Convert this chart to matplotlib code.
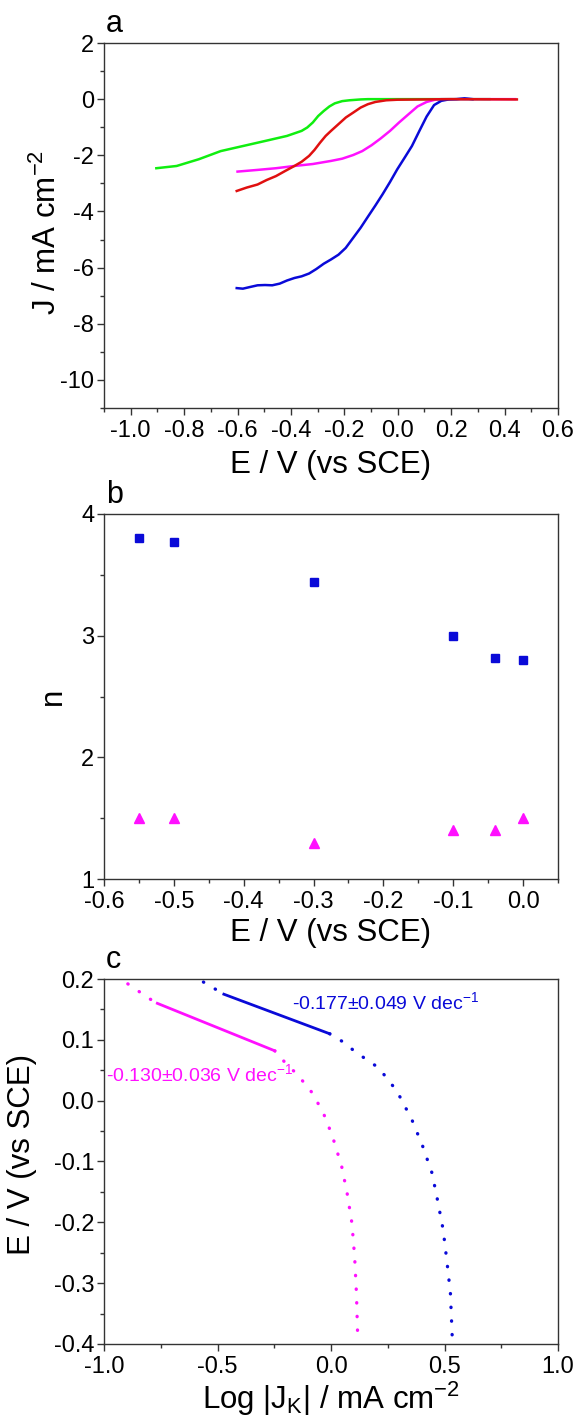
import matplotlib
matplotlib.use("Agg")
import matplotlib.pyplot as plt
from matplotlib.ticker import MultipleLocator

plt.rcParams['font.family'] = ['Liberation Sans', 'DejaVu Sans']
plt.rcParams['mathtext.fontset'] = 'custom'
plt.rcParams['mathtext.rm'] = 'Liberation Sans'
plt.rcParams['mathtext.it'] = 'Liberation Sans'
plt.rcParams['axes.unicode_minus'] = False

# panel a: LSV curves
blue_E = [-0.603, -0.580, -0.553, -0.525, -0.497, -0.470, -0.442, -0.415, -0.387, -0.360,
          -0.332, -0.305, -0.277, -0.250, -0.222, -0.195, -0.167, -0.139, -0.112, -0.084,
          -0.057, -0.029, -0.002, 0.026, 0.053, 0.081, 0.108, 0.136, 0.163, 0.191,
          0.22, 0.25, 0.28]
blue_J = [-6.73, -6.75, -6.69, -6.63, -6.62, -6.63, -6.57, -6.46, -6.37, -6.31,
          -6.21, -6.05, -5.86, -5.71, -5.54, -5.30, -4.94, -4.58, -4.19, -3.79,
          -3.39, -2.95, -2.50, -2.08, -1.67, -1.13, -0.62, -0.21, -0.06, -0.01,
          0.0, 0.03, 0.0]
mag_E = [-0.60, -0.525, -0.456, -0.387, -0.318, -0.25, -0.208, -0.167, -0.133, -0.098,
         -0.064, -0.029, 0.005, 0.040, 0.074, 0.108, 0.143, 0.163, 0.30, 0.44]
mag_J = [-2.58, -2.52, -2.46, -2.38, -2.31, -2.20, -2.12, -1.99, -1.85, -1.64,
         -1.40, -1.13, -0.83, -0.54, -0.26, -0.10, -0.01, 0.0, 0.0, 0.0]
red_E = [-0.603, -0.566, -0.525, -0.491, -0.456, -0.422, -0.387, -0.360, -0.332, -0.312,
         -0.291, -0.270, -0.25, -0.222, -0.194, -0.167, -0.139, -0.112, -0.084, -0.043,
         -0.001, 0.2, 0.446]
red_J = [-3.27, -3.15, -3.04, -2.88, -2.74, -2.56, -2.38, -2.23, -2.02, -1.81,
         -1.55, -1.31, -1.13, -0.89, -0.65, -0.48, -0.30, -0.18, -0.10, -0.04,
         -0.02, 0.0, -0.01]
green_E = [-0.904, -0.828, -0.745, -0.663, -0.58, -0.497, -0.415, -0.36, -0.339, -0.318,
           -0.298, -0.277, -0.256, -0.236, -0.208, -0.181, -0.139, -0.112, 0.0, 0.2, 0.343]
green_J = [-2.46, -2.38, -2.14, -1.85, -1.67, -1.49, -1.31, -1.13, -1.01, -0.83,
           -0.60, -0.42, -0.26, -0.15, -0.07, -0.04, -0.01, 0.0, 0.0, 0.0, 0.0]

# panel b: electron transfer number
n_E = [-0.55, -0.5, -0.3, -0.1, -0.04, 0.0]
n_blue = [3.80, 3.77, 3.44, 3.00, 2.82, 2.80]
n_mag = [1.50, 1.50, 1.30, 1.40, 1.40, 1.50]

# panel c: Tafel plots
tb_dot1_x = [-0.562, -0.472]
tb_dot1_y = [0.195, 0.175]
tb_line_x = [-0.472, -0.006]
tb_line_y = [0.175, 0.110]
tb_dot2_x = [-0.006, 0.047, 0.112, 0.21, 0.29, 0.356, 0.404, 0.445, 0.469, 0.494, 0.51, 0.526, 0.534]
tb_dot2_y = [0.110, 0.098, 0.079, 0.054, 0.016, -0.031, -0.075, -0.119, -0.163, -0.212, -0.262, -0.316, -0.388]
tm_dot1_x = [-0.895, -0.797, -0.765]
tm_dot1_y = [0.192, 0.167, 0.160]
tm_line_x = [-0.765, -0.248]
tm_line_y = [0.160, 0.082]
tm_dot2_x = [-0.248, -0.196, -0.148, -0.083, -0.034, 0.006, 0.047, 0.071, 0.092, 0.104, 0.112, 0.117]
tm_dot2_y = [0.082, 0.060, 0.043, 0.013, -0.020, -0.058, -0.108, -0.152, -0.201, -0.256, -0.316, -0.38]

BLUE = '#0a0ad8'
RED = '#e01010'
GREEN = '#10ee10'
MAG = '#ff10ff'

fig = plt.figure(figsize=(5.77, 14.19), dpi=100)
W, H = 577, 1419
def box(l, t, r, b):
    return [l / W, 1 - b / H, (r - l) / W, (b - t) / H]

ax1 = fig.add_axes(box(104, 43, 558, 408))
ax2 = fig.add_axes(box(104, 514, 558, 879))
ax3 = fig.add_axes(box(104, 979, 558, 1344))

tick_fs = 17
label_fs = 22.5

for ax in (ax1, ax2, ax3):
    for s in ax.spines.values():
        s.set_linewidth(1.0)
        s.set_color('#333333')
    ax.tick_params(which='major', direction='out', length=5, width=1, labelsize=tick_fs,
                   top=False, right=False, pad=2, color='#333333')
    ax.tick_params(which='minor', direction='out', length=3, width=1, top=False, right=False,
                   color='#333333')
    ax.tick_params(axis='x', which='major', pad=3.5)

# a
ax1.plot(green_E, green_J, color=GREEN, lw=1.8)
ax1.plot(mag_E, mag_J, color=MAG, lw=1.8)
ax1.plot(blue_E, blue_J, color=BLUE, lw=1.8)
ax1.plot(red_E, red_J, color=RED, lw=1.8)
ax1.set_xlim(-1.1, 0.6)
ax1.set_ylim(-11, 2)
ax1.xaxis.set_minor_locator(MultipleLocator(0.1))
ax1.yaxis.set_major_locator(MultipleLocator(2))
ax1.yaxis.set_minor_locator(MultipleLocator(1))
ax1.set_xticks([-1.0, -0.8, -0.6, -0.4, -0.2, 0.0, 0.2, 0.4, 0.6])
ax1.set_xticklabels(['-1.0', '-0.8', '-0.6', '-0.4', '-0.2', '0.0', '0.2', '0.4', '0.6'])
ax1.set_xlabel('E / V (vs SCE)', fontsize=label_fs, labelpad=6)
ax1.set_ylabel(r'J / mA cm$^{\mathregular{-2}}$', fontsize=label_fs)
ax1.yaxis.set_label_coords(-0.09, 0.48)

# b
ax2.plot(n_E, n_blue, 's', color=BLUE, ms=5.8, mec=BLUE)
ax2.plot(n_E, n_mag, '^', color=MAG, ms=6.5, mec=MAG)
ax2.set_xlim(-0.6, 0.05)
ax2.set_ylim(1, 4)
ax2.xaxis.set_minor_locator(MultipleLocator(0.05))
ax2.yaxis.set_major_locator(MultipleLocator(1))
ax2.yaxis.set_minor_locator(MultipleLocator(0.5))
ax2.set_xticks([-0.6, -0.5, -0.4, -0.3, -0.2, -0.1, 0.0])
ax2.set_xticklabels(['-0.6', '-0.5', '-0.4', '-0.3', '-0.2', '-0.1', '0.0'])
ax2.set_xlabel('E / V (vs SCE)', fontsize=label_fs, labelpad=4)
ax2.set_ylabel('n', fontsize=label_fs)
ax2.yaxis.set_label_coords(-0.079, 0.5)

# c
dots = (0, (0.1, 4.0))
for xs, ys, c in ((tb_dot1_x, tb_dot1_y, BLUE), (tb_dot2_x, tb_dot2_y, BLUE),
                  (tm_dot1_x, tm_dot1_y, MAG), (tm_dot2_x, tm_dot2_y, MAG)):
    ax3.plot(xs, ys, color=c, lw=2.4, linestyle=dots, dash_capstyle='round')
ax3.plot(tb_line_x, tb_line_y, color=BLUE, lw=2.0)
ax3.plot(tm_line_x, tm_line_y, color=MAG, lw=2.0)
ax3.text(-0.172, 0.162, r'-0.177$\pm$0.049 V dec$^{\mathregular{-1}}$', color=BLUE,
         fontsize=14, va='center', ha='left')
ax3.text(-0.992, 0.043, r'-0.130$\pm$0.036 V dec$^{\mathregular{-1}}$', color=MAG,
         fontsize=14, va='center', ha='left')
ax3.set_xlim(-1, 1)
ax3.set_ylim(-0.4, 0.2)
ax3.xaxis.set_minor_locator(MultipleLocator(0.25))
ax3.yaxis.set_minor_locator(MultipleLocator(0.05))
ax3.set_xticks([-1.0, -0.5, 0.0, 0.5, 1.0])
ax3.set_xticklabels(['-1.0', '-0.5', '0.0', '0.5', '1.0'])
ax3.set_yticks([-0.4, -0.3, -0.2, -0.1, 0.0, 0.1, 0.2])
ax3.set_yticklabels(['-0.4', '-0.3', '-0.2', '-0.1', '0.0', '0.1', '0.2'])
ax3.set_xlabel(r'Log |J$_{\mathregular{K}}$| / mA cm$^{\mathregular{-2}}$', fontsize=label_fs, labelpad=1.5)
ax3.set_ylabel('E / V (vs SCE)', fontsize=label_fs)
ax3.yaxis.set_label_coords(-0.148, 0.52)

for letter, y in (('a', 24), ('b', 495), ('c', 960)):
    fig.text(106 / W, 1 - y / H, letter, fontsize=22, va='center', ha='left')

fig.savefig('out.png', dpi=100)
